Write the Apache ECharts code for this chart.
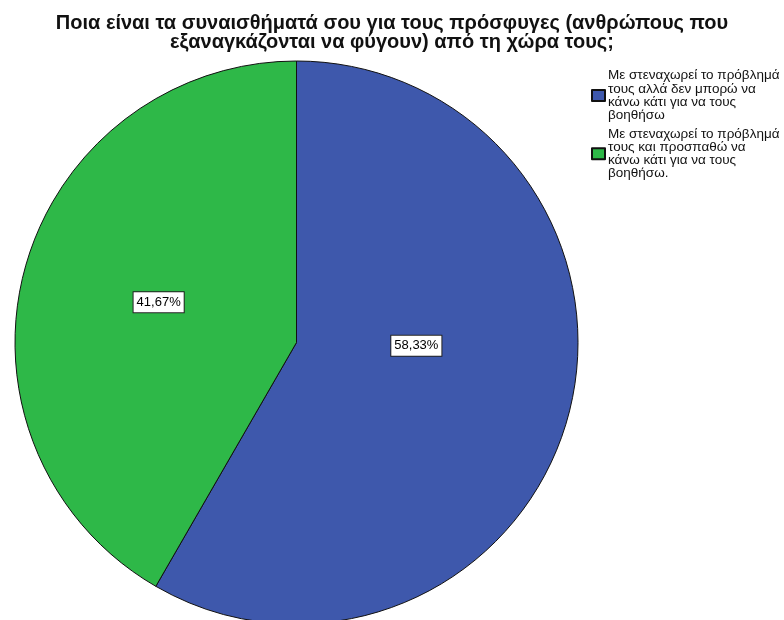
<!DOCTYPE html>
<html>
<head>
<meta charset="utf-8">
<script src="https://cdn.jsdelivr.net/npm/echarts@6/dist/echarts.min.js"></script>
<style>
  html, body { margin: 0; padding: 0; background: #fff; }
  #chart { width: 784px; height: 620px; }
</style>
</head>
<body>
<div id="chart"></div>
<script>
// Survey answers and their share of respondents (%)
const categories = [
  'Με στεναχωρεί το πρόβλημά τους αλλά δεν μπορώ να κάνω κάτι για να τους βοηθήσω',
  'Με στεναχωρεί το πρόβλημά τους και προσπαθώ να κάνω κάτι για να τους βοηθήσω.'
];
const legendLines = [
  'Με στεναχωρεί το πρόβλημά\nτους αλλά δεν μπορώ να\nκάνω κάτι για να τους\nβοηθήσω',
  'Με στεναχωρεί το πρόβλημά\nτους και προσπαθώ να\nκάνω κάτι για να τους\nβοηθήσω.'
];
const values = [58.33, 41.67];
const colors = ['#3e58ac', '#2eb848'];
const labelOffsets = [[-19, -34], [1, -3]];

const chart = echarts.init(document.getElementById('chart'), null, { renderer: 'canvas' });

const data = categories.map((name, i) => ({
  name: name,
  value: values[i],
  itemStyle: { color: colors[i] },
  label: { offset: labelOffsets[i] }
}));

chart.setOption({
  animation: false,
  backgroundColor: '#ffffff',
  title: {
    text: 'Ποια είναι τα συναισθήματά σου για τους πρόσφυγες (ανθρώπους που\nεξαναγκάζονται να φύγουν) από τη χώρα τους;',
    left: 'center',
    top: 9,
    textStyle: {
      fontFamily: 'Liberation Sans, Arial, sans-serif',
      fontSize: 20,
      fontWeight: 'bold',
      lineHeight: 19,
      color: '#111'
    }
  },
  legend: {
    orient: 'vertical',
    left: 586,
    top: 56,
    icon: 'rect',
    itemWidth: 13,
    itemHeight: 11,
    itemGap: -11,
    selectedMode: false,
    formatter: function (name) {
      return legendLines[categories.indexOf(name)];
    },
    textStyle: {
      fontFamily: 'Liberation Sans, Arial, sans-serif',
      fontSize: 13.5,
      lineHeight: 13.3,
      color: '#111',
      padding: [0, 0, 16, -2]
    }
  },
  series: [{
    type: 'pie',
    center: [296.5, 342.5],
    radius: 281.5,
    startAngle: 90,
    clockwise: true,
    avoidLabelOverlap: false,
    itemStyle: { borderColor: '#111', borderWidth: 1 },
    label: {
      show: true,
      position: 'inside',
      formatter: function (p) {
        return p.value.toFixed(2).replace('.', ',') + '%';
      },
      fontFamily: 'Liberation Sans, Arial, sans-serif',
      fontSize: 13,
      color: '#000',
      backgroundColor: '#fff',
      borderColor: '#222',
      borderWidth: 1,
      padding: [4, 3, 3, 3]
    },
    labelLine: { show: false },
    emphasis: { disabled: true },
    data: data
  }]
});
</script>
</body>
</html>
